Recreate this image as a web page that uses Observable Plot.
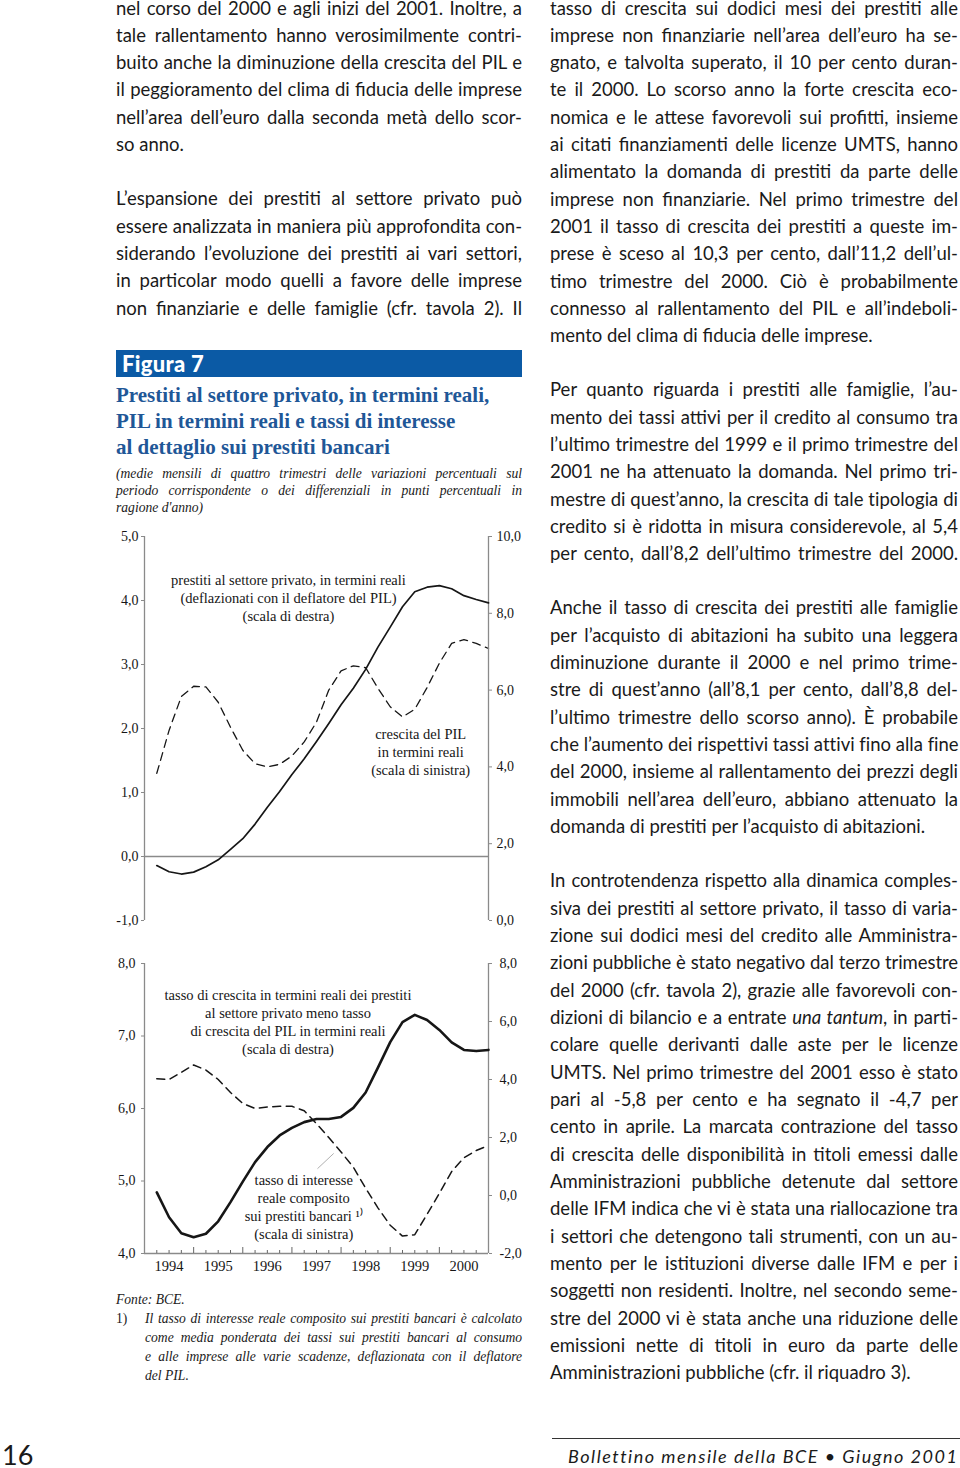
<!DOCTYPE html>
<html lang="it">
<head>
<meta charset="utf-8">
<script src="https://cdn.jsdelivr.net/npm/d3@7"></script>
<script src="https://cdn.jsdelivr.net/npm/@observablehq/plot@0.6"></script>
<style>
  html, body { margin: 0; padding: 0; background: #fff; }
  body { width: 960px; height: 1468px; position: relative; overflow: hidden; color: #1a1a1a; }
  .ln { position: absolute; white-space: nowrap; text-align: left; }
  .body { font-family: Lato, "Open Sans", sans-serif; font-size: 18.5px; }
  .sub { font-family: "Liberation Serif", "Times New Roman", serif; font-style: italic; font-size: 13.6px; }
  .ttl { font-family: "Liberation Serif", "Times New Roman", serif; font-weight: bold; font-size: 21px; color: #1f5797; }
  .chart { position: absolute; left: 110px; }
  #bar { position: absolute; left: 116px; top: 350px; width: 406px; height: 27px; background: #0b5aa5;
         color: #fff; font-family: Lato, sans-serif; font-weight: 900; font-size: 22px; line-height: 27px;
         box-sizing: border-box; padding-left: 6px; letter-spacing: 0.3px; }
  #pnum { position: absolute; left: 2px; top: 1444px; font-family: Lato, sans-serif; font-size: 27px; line-height: 22px; }
  #rule { position: absolute; left: 552px; top: 1438px; width: 408px; height: 0; border-top: 1.5px solid #333; }
  #foot { position: absolute; left: 568px; top: 1445px; font-family: Lato, sans-serif; font-style: italic; font-size: 18px; line-height: 22px; white-space: nowrap; }
</style>
</head>
<body>
<div id="bar">Figura 7</div>
<div id="pnum">16</div>
<div id="rule"></div>
<div id="foot">Bollettino mensile della BCE • Giugno 2001</div>
<div id="topA" class="chart" style="top:525px"></div>
<div id="topB" class="chart" style="top:525px"></div>
<div id="botA" class="chart" style="top:950px"></div>
<div id="botB" class="chart" style="top:950px"></div>
<script>
// ---------------- chart data ----------------
const quarters = [
  "1994 T1","1994 T2","1994 T3","1994 T4",
  "1995 T1","1995 T2","1995 T3","1995 T4",
  "1996 T1","1996 T2","1996 T3","1996 T4",
  "1997 T1","1997 T2","1997 T3","1997 T4",
  "1998 T1","1998 T2","1998 T3","1998 T4",
  "1999 T1","1999 T2","1999 T3","1999 T4",
  "2000 T1","2000 T2","2000 T3","2000 T4"
];
// top panel: real GDP growth (left scale, dashed)
const gdpGrowth = [1.30,1.97,2.50,2.66,2.65,2.41,2.02,1.66,1.45,1.40,1.44,1.57,1.79,2.10,2.60,2.90,2.98,2.95,2.63,2.34,2.18,2.30,2.64,3.02,3.33,3.39,3.33,3.25];
// top panel: real loans to private sector (right scale, solid)
const realLoans = [1.43,1.27,1.21,1.26,1.40,1.58,1.85,2.13,2.51,2.95,3.36,3.80,4.21,4.66,5.13,5.62,6.05,6.54,7.12,7.64,8.17,8.56,8.68,8.72,8.64,8.46,8.36,8.27];
// bottom panel: real loan growth minus real GDP growth (right scale, solid)
const loanGdpGap = [0.11,-0.75,-1.30,-1.44,-1.32,-0.89,-0.23,0.48,1.15,1.67,2.07,2.33,2.53,2.64,2.64,2.71,3.02,3.55,4.41,5.29,5.98,6.23,6.05,5.71,5.28,5.02,4.98,5.02];
// bottom panel: composite real bank lending rate (left scale, dashed)
const realLendingRate = [6.41,6.40,6.50,6.60,6.53,6.40,6.22,6.07,6.00,6.02,6.03,6.03,5.97,5.79,5.60,5.40,5.19,4.90,4.63,4.39,4.24,4.26,4.54,4.83,5.13,5.32,5.42,5.49];

const leftTicksTop = [-1, 0, 1, 2, 3, 4, 5];
const rightTicksTop = [0, 2, 4, 6, 8, 10];
const leftTicksBottom = [4, 5, 6, 7, 8];
const rightTicksBottom = [-2, 0, 2, 4, 6, 8];
const yearLabels = ["1994","1995","1996","1997","1998","1999","2000"];

const labelsTop = [
  {x: 1996.93, y: 4.05, text: "prestiti al settore privato, in termini reali\n(deflazionati con il deflatore del PIL)\n(scala di destra)"},
  {x: 1999.62, y: 1.64, text: "crescita del PIL\nin termini reali\n(scala di sinistra)"}
];
const labelsBottom = [
  {x: 1996.92, y: 7.20, text: "tasso di crescita in termini reali dei prestiti\nal settore privato meno tasso\ndi crescita del PIL in termini reali\n(scala di destra)"},
  {x: 1997.24, y: 4.65, text: "tasso di interesse\nreale composito\nsui prestiti bancari \u00b9\u207e\n(scala di sinistra)"}
];
const leader = [{x1: 1997.52, y1: 5.17, x2: 1997.85, y2: 5.38}];

// ---------------- build table ----------------
const rows = quarters.map((q, i) => {
  const [y, t] = q.split(" ");
  return {t: +y + (+t.slice(1)) / 4, gdp: gdpGrowth[i], loans: realLoans[i], gap: loanGdpGap[i], rate: realLendingRate[i]};
});
const minorTicks = rows.map(d => d.t).filter(t => t < 2001 && t % 1 !== 0);
const yearTicks = rows.map(d => d.t).filter(t => t < 2001 && t % 1 === 0);
const yearMid = yearLabels.map(y => +y + 0.5);

const W = 415, ML = 34, MR = 37;
const serif = "'Liberation Serif','Times New Roman',serif";
const grey = "#8a8a8a";
const ink = "#161616";
const fmt = d => d.toFixed(1).replace(".", ",");

function mk(h, mt, mb, ydom, marks) {
  return Plot.plot({
    width: W, height: h, marginTop: mt, marginBottom: mb, marginLeft: ML, marginRight: MR,
    x: {domain: [1994, 2001], axis: null},
    y: {domain: ydom, axis: null},
    style: {fontFamily: serif, fontSize: "14px", background: "transparent", overflow: "visible", color: ink},
    marks
  });
}

const textOpts = {x: "x", y: "y", text: "text", fontSize: 14.5, lineHeight: 1.25, lineAnchor: "middle", textAnchor: "middle", fill: ink};

// top panel, left scale
document.getElementById("topA").append(mk(410, 11, 15, [-1, 5], [
  Plot.ruleY([0], {stroke: grey, strokeWidth: 1.6}),
  Plot.ruleX([1994], {stroke: grey, strokeWidth: 1.3}),
  Plot.axisY({ticks: leftTicksTop, tickFormat: fmt, tickSize: 3, tickPadding: 3, stroke: grey, fill: ink, fontSize: 14, label: null}),
  Plot.line(rows, {x: "t", y: "gdp", stroke: ink, strokeWidth: 1.3, strokeDasharray: "8,5.5"}),
  Plot.text(labelsTop, textOpts)
]));
// top panel, right scale
document.getElementById("topB").append(mk(410, 11, 15, [0, 10], [
  Plot.ruleX([2001], {stroke: grey, strokeWidth: 1.3}),
  Plot.axisY({anchor: "right", ticks: rightTicksTop, tickFormat: fmt, tickSize: 3, tickPadding: 5, stroke: grey, fill: ink, fontSize: 14, label: null}),
  Plot.line(rows, {x: "t", y: "loans", stroke: ink, strokeWidth: 1.7})
]));
// bottom panel, left scale
document.getElementById("botA").append(mk(335, 13, 32, [4, 8], [
  Plot.ruleX([1994], {stroke: grey, strokeWidth: 1.3}),
  Plot.ruleY([4], {stroke: grey, strokeWidth: 1.3}),
  Plot.axisY({ticks: leftTicksBottom, tickFormat: fmt, tickSize: 3, tickPadding: 6, stroke: grey, fill: ink, fontSize: 14, label: null}),
  Plot.axisX({ticks: minorTicks, tickSize: -3, tickFormat: () => "", stroke: "#666", label: null}),
  Plot.axisX({ticks: yearTicks, tickSize: -6, tickFormat: () => "", stroke: "#666", label: null}),
  Plot.axisX({ticks: yearMid, tickSize: 0, tickPadding: 7, tickFormat: d => yearLabels[yearMid.indexOf(d)], fill: ink, fontSize: 14.5, label: null}),
  Plot.link(leader, {x1: "x1", y1: "y1", x2: "x2", y2: "y2", stroke: "#b0b0b0", strokeWidth: 1}),
  Plot.line(rows, {x: "t", y: "rate", stroke: ink, strokeWidth: 1.5, strokeDasharray: "8,5.5"}),
  Plot.text(labelsBottom, textOpts)
]));
// bottom panel, right scale
document.getElementById("botB").append(mk(335, 13, 32, [-2, 8], [
  Plot.ruleX([2001], {stroke: grey, strokeWidth: 1.3}),
  Plot.axisY({anchor: "right", ticks: rightTicksBottom, tickFormat: fmt, tickSize: 3, tickPadding: 8, stroke: grey, fill: ink, fontSize: 14, label: null}),
  Plot.line(rows, {x: "t", y: "gap", stroke: ink, strokeWidth: 2.6})
]));

// ---------------- page text ----------------
function addLines(cls, x, y0, pitch, w, lines, justifyLast) {
  lines.forEach((txt, i) => {
    const d = document.createElement("div");
    d.className = "ln " + cls;
    const c = y0 + i * pitch;
    let lh = pitch, top = c - pitch / 2;
    if (top < 0) { top = 0; lh = 2 * c; }
    d.style.left = x + "px";
    d.style.top = top + "px";
    d.style.lineHeight = lh + "px";
    d.style.width = w + "px";
    const s = document.createElement("span");
    s.innerHTML = txt;
    d.appendChild(s);
    document.body.appendChild(d);
    const nat = s.getBoundingClientRect().width;
    const n = s.textContent.length;
    if (nat > w - 1) d.style.letterSpacing = ((w - 1 - nat) / n) + "px";
    if (i < lines.length - 1 || justifyLast) { d.style.textAlign = "justify"; d.style.textAlignLast = "justify"; }
  });
}
const P = 27.33;
addLines("body", 116, 8, P, 406, [
  "nel corso del 2000 e agli inizi del 2001. Inoltre, a",
  "tale rallentamento hanno verosimilmente contri-",
  "buito anche la diminuzione della crescita del PIL e",
  "il peggioramento del clima di fiducia delle imprese",
  "nell’area dell’euro dalla seconda metà dello scor-",
  "so anno."
]);
addLines("body", 116, 199, P, 406, [
  "L’espansione dei prestiti al settore privato può",
  "essere analizzata in maniera più approfondita con-",
  "siderando l’evoluzione dei prestiti ai vari settori,",
  "in particolar modo quelli a favore delle imprese",
  "non finanziarie e delle famiglie (cfr. tavola 2). Il"
], true);
addLines("body", 550, 8, P, 408, [
  "tasso di crescita sui dodici mesi dei prestiti alle",
  "imprese non finanziarie nell’area dell’euro ha se-",
  "gnato, e talvolta superato, il 10 per cento duran-",
  "te il 2000. Lo scorso anno la forte crescita eco-",
  "nomica e le attese favorevoli sui profitti, insieme",
  "ai citati finanziamenti delle licenze UMTS, hanno",
  "alimentato la domanda di prestiti da parte delle",
  "imprese non finanziarie. Nel primo trimestre del",
  "2001 il tasso di crescita dei prestiti a queste im-",
  "prese è sceso al 10,3 per cento, dall’11,2 dell’ul-",
  "timo trimestre del 2000. Ciò è probabilmente",
  "connesso al rallentamento del PIL e all’indeboli-",
  "mento del clima di fiducia delle imprese."
]);
addLines("body", 550, 390, P, 408, [
  "Per quanto riguarda i prestiti alle famiglie, l’au-",
  "mento dei tassi attivi per il credito al consumo tra",
  "l’ultimo trimestre del 1999 e il primo trimestre del",
  "2001 ne ha attenuato la domanda. Nel primo tri-",
  "mestre di quest’anno, la crescita di tale tipologia di",
  "credito si è ridotta in misura considerevole, al 5,4",
  "per cento, dall’8,2 dell’ultimo trimestre del 2000."
], true);
addLines("body", 550, 608, P, 408, [
  "Anche il tasso di crescita dei prestiti alle famiglie",
  "per l’acquisto di abitazioni ha subito una leggera",
  "diminuzione durante il 2000 e nel primo trime-",
  "stre di quest’anno (all’8,1 per cento, dall’8,8 del-",
  "l’ultimo trimestre dello scorso anno). È probabile",
  "che l’aumento dei rispettivi tassi attivi fino alla fine",
  "del 2000, insieme al rallentamento dei prezzi degli",
  "immobili nell’area dell’euro, abbiano attenuato la",
  "domanda di prestiti per l’acquisto di abitazioni."
]);
addLines("body", 550, 881, P, 408, [
  "In controtendenza rispetto alla dinamica comples-",
  "siva dei prestiti al settore privato, il tasso di varia-",
  "zione sui dodici mesi del credito alle Amministra-",
  "zioni pubbliche è stato negativo dal terzo trimestre",
  "del 2000 (cfr. tavola 2), grazie alle favorevoli con-",
  "dizioni di bilancio e a entrate <i>una tantum</i>, in parti-",
  "colare quelle derivanti dalle aste per le licenze",
  "UMTS. Nel primo trimestre del 2001 esso è stato",
  "pari al -5,8 per cento e ha segnato il -4,7 per",
  "cento in aprile. La marcata contrazione del tasso",
  "di crescita delle disponibilità in titoli emessi dalle",
  "Amministrazioni pubbliche detenute dal settore",
  "delle IFM indica che vi è stata una riallocazione tra",
  "i settori che detengono tali strumenti, con un au-",
  "mento per le istituzioni diverse dalle IFM e per i",
  "soggetti non residenti. Inoltre, nel secondo seme-",
  "stre del 2000 vi è stata anche una riduzione delle",
  "emissioni nette di titoli in euro da parte delle",
  "Amministrazioni pubbliche (cfr. il riquadro 3)."
]);
// figure title
addLines("ttl", 116, 395, 26, 406, [
  "Prestiti al settore privato, in termini reali,",
  "PIL in termini reali e tassi di interesse",
  "al dettaglio sui prestiti bancari"
], false);
document.querySelectorAll(".ttl").forEach(d => { d.style.textAlign = "left"; d.style.textAlignLast = "left"; });
addLines("sub", 116, 473, 17, 406, [
  "(medie mensili di quattro trimestri delle variazioni percentuali sul",
  "periodo corrispondente o dei differenziali in punti percentuali in",
  "ragione d'anno)"
]);
addLines("sub", 116, 1299, 19, 406, ["Fonte: BCE."]);
addLines("sub", 116, 1318, 19, 30, ["<span style='font-style:normal'>1)</span>"]);
addLines("sub", 145, 1318, 19, 377, [
  "Il tasso di interesse reale composito sui prestiti bancari è calcolato",
  "come media ponderata dei tassi sui prestiti bancari al consumo",
  "e alle imprese alle varie scadenze, deflazionata con il deflatore",
  "del PIL."
]);
// footer fit
(function(){
  const f = document.getElementById("foot");
  const target = 389;
  const nat = f.getBoundingClientRect().width;
  f.style.letterSpacing = ((target - nat) / f.textContent.length) + "px";
})();
</script>
</body>
</html>
